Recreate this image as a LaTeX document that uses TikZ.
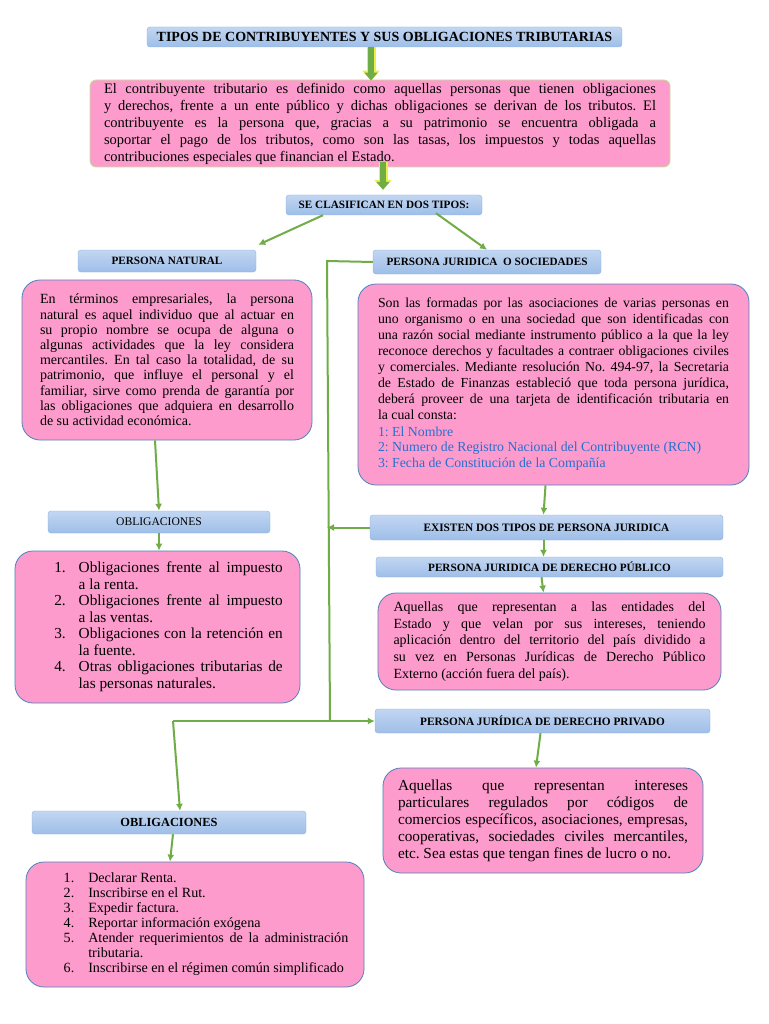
\documentclass[tikz,border=0pt]{standalone}
\usepackage{fontspec}
\setmainfont{Liberation Serif}
\usepackage{array}
\usetikzlibrary{arrows.meta}

\definecolor{cardpink}{RGB}{253,155,205}
\definecolor{cardline}{RGB}{79,129,189}
\definecolor{topline}{RGB}{196,226,150}
\definecolor{hdrtop}{RGB}{194,214,242}
\definecolor{hdrbot}{RGB}{158,190,232}
\definecolor{hdrline}{RGB}{141,179,226}
\definecolor{linkgreen}{RGB}{112,173,71}
\definecolor{glowyellow}{RGB}{236,240,70}
\definecolor{listblue}{RGB}{40,112,205}

\tikzset{
  header/.style={draw=hdrline, rounded corners=3pt, top color=hdrtop, bottom color=hdrbot, inner sep=0pt, font=\bfseries},
  card/.style={draw=cardline, line width=0.8pt, fill=cardpink, rounded corners=18pt, inner sep=0pt, align=justify},
  link/.style={draw=linkgreen, line width=2pt, -{Latex[length=7pt,width=7pt]}},
  plain/.style={draw=linkgreen, line width=2pt},
  bigarrow/.style={draw=linkgreen, line width=6pt, -{Triangle[length=8pt,width=13pt]},
    preaction={draw=glowyellow, line width=9pt, -{Triangle[length=10pt,width=17pt]}}}
}

\begin{document}
\frenchspacing
\begin{tikzpicture}[x=1pt, y=-1pt]
  \useasboundingbox (0,0) rectangle (768,1024);
  \fill[white] (0,0) rectangle (768,1024);

  % headers
  \node[header, minimum width=475, minimum height=20, font=\bfseries\fontsize{14}{15}\selectfont] (title) at (384.5, 37) {TIPOS DE CONTRIBUYENTES Y SUS OBLIGACIONES TRIBUTARIAS};
  \node[header, minimum width=196, minimum height=20, font=\bfseries\fontsize{11.2}{12}\selectfont] (clas) at (384, 205) {SE CLASIFICAN EN DOS TIPOS:};
  \node[header, minimum width=178, minimum height=22, font=\bfseries\fontsize{11.2}{12}\selectfont] (pn) at (167, 261) {PERSONA NATURAL};
  \node[header, minimum width=228, minimum height=24, font=\bfseries\fontsize{11.2}{12}\selectfont] (pjs) at (487, 262) {PERSONA JURIDICA\ \ O SOCIEDADES};
  \node[header, minimum width=222, minimum height=22, font=\fontsize{11.6}{12}\selectfont] (obl1) at (159, 522) {OBLIGACIONES};
  \node[header, minimum width=353, minimum height=25, font=\bfseries\fontsize{11.3}{12}\selectfont] (exist) at (546.5, 527.5) {EXISTEN DOS TIPOS DE PERSONA JURIDICA};
  \node[header, minimum width=347, minimum height=20, font=\bfseries\fontsize{11.2}{12}\selectfont] (pub) at (549.5, 567) {PERSONA JURIDICA DE DERECHO PÚBLICO};
  \node[header, minimum width=335, minimum height=24, font=\bfseries\fontsize{11.3}{12}\selectfont] (priv) at (542.5, 721) {PERSONA JURÍDICA DE DERECHO PRIVADO};
  \node[header, minimum width=274, minimum height=23, font=\bfseries\fontsize{12.4}{13}\selectfont] (obl2) at (169, 822.5) {OBLIGACIONES};

  % text boxes
  \node[card, draw=topline, rounded corners=6pt, minimum width=580, minimum height=87, text width=552, font=\fontsize{14.5}{17}\selectfont] (intro) at (380, 123.5)
    {El contribuyente tributario es definido como aquellas personas que tienen obligaciones\linebreak
     y derechos, frente a un ente público y dichas obligaciones se derivan de los tributos. El\linebreak
     contribuyente es la persona que, gracias a su patrimonio se encuentra obligada a\linebreak
     soportar el pago de los tributos, como son las tasas, los impuestos y todas aquellas\linebreak
     contribuciones especiales que financian el Estado.};
  \node[card, minimum width=290, minimum height=160, text width=254, font=\fontsize{14}{15.2}\selectfont] (pntext) at (167, 360)
    {En términos empresariales, la persona\linebreak
     natural es aquel individuo que al actuar en\linebreak
     su propio nombre se ocupa de alguna o\linebreak
     algunas actividades que la ley considera\linebreak
     mercantiles. En tal caso la totalidad, de su\linebreak
     patrimonio, que influye el personal y el\linebreak
     familiar, sirve como prenda de garantía por\linebreak
     las obligaciones que adquiera en desarrollo\linebreak
     de su actividad económica.};
  \node[card, minimum width=391, minimum height=201, text width=351, font=\fontsize{13.8}{15.9}\selectfont] (pjstext) at (553.5, 384.5)
    {Son las formadas por las asociaciones de varias personas en\linebreak
     uno organismo o en una sociedad que son identificadas con\linebreak
     una razón social mediante instrumento público a la que la ley\linebreak
     reconoce derechos y facultades a contraer obligaciones civiles\linebreak
     y comerciales. Mediante resolución No. 494-97, la Secretaria\linebreak
     de Estado de Finanzas estableció que toda persona jurídica,\linebreak
     deberá proveer de una tarjeta de identificación tributaria en\linebreak
     la cual consta:\par\vspace{1pt}
     {\color{listblue}1: El Nombre\par
     2: Numero de Registro Nacional del Contribuyente (RCN)\par
     3: Fecha de Constitución de la Compañía\par}};
  \node[card, minimum width=285, minimum height=152, align=left, font=\fontsize{15.3}{16.5}\selectfont] (obl1list) at (157.5, 627)
    {\begin{tabular}{@{\hspace{22pt}}r@{\hspace{13pt}}p{204pt}@{}}
     1. & Obligaciones frente al impuesto\linebreak a la renta.\\
     2. & Obligaciones frente al impuesto\linebreak a las ventas.\\
     3. & Obligaciones con la retención en\linebreak la fuente.\\
     4. & Otras obligaciones tributarias de\linebreak las personas naturales.
     \end{tabular}};
  \node[card, minimum width=343, minimum height=97, text width=312, font=\fontsize{14}{16.7}\selectfont] (pubtext) at (549.5, 641.5)
    {Aquellas que representan a las entidades del\linebreak
     Estado y que velan por sus intereses, teniendo\linebreak
     aplicación dentro del territorio del país dividido a\linebreak
     su vez en Personas Jurídicas de Derecho Público\linebreak
     Externo (acción fuera del país).};
  \node[card, minimum width=320, minimum height=105, text width=290, font=\fontsize{15.3}{17}\selectfont] (privtext) at (543, 820.5)
    {Aquellas que representan intereses\linebreak
     particulares regulados por códigos de\linebreak
     comercios específicos, asociaciones, empresas,\linebreak
     cooperativas, sociedades civiles mercantiles,\linebreak
     etc. Sea estas que tengan fines de lucro o no.};
  \node[card, minimum width=338, minimum height=125, align=left, font=\fontsize{14.1}{15.1}\selectfont] (obl2list) at (195, 924.5)
    {\begin{tabular}{@{\hspace{22pt}}r@{\hspace{14pt}}p{260pt}@{}}
     1. & Declarar Renta.\\
     2. & Inscribirse en el Rut.\\
     3. & Expedir factura.\\
     4. & Reportar información exógena\\
     5. & Atender requerimientos de la administración\linebreak tributaria.\\
     6. & Inscribirse en el régimen común simplificado
     \end{tabular}};

  % block arrows
  \draw[bigarrow] ([xshift=-13.5]title.south) -- ([xshift=-9, yshift=-1]intro.north);
  \draw[bigarrow] ([xshift=3, yshift=5]intro.south) -- ([xshift=-1, yshift=5]clas.north);

  % links
  \draw[link] ([xshift=-61]clas.south) -- ([xshift=2, yshift=5]pn.north east);
  \draw[link] ([xshift=52, yshift=2]clas.south) -- (pjs.north);
  \foreach \src/\dst/\sx/\dx in {pntext.south/obl1.north/-12/0, obl1.south/obl1list.north/0/1.5,
      pjstext.south/exist.north/-8/-3, exist.south/pub.north/-3/-6, pub.south/pubtext.north/-8/-6,
      priv.south/privtext.north/-2/-7, obl2.south/obl2list.north/4/-25}
    \draw[link] ([xshift=\sx]\src) -- ([xshift=\dx]\dst);

  % connector from PERSONA JURIDICA down the middle
  \coordinate (jtop) at (327, 261);
  \coordinate (jbot) at (330, 721);
  \coordinate (jleft) at (173, 721);
  \draw[plain] (pjs.west) -- (jtop) -- (jbot);
  \draw[link] (exist.west) -- (exist.west -| jtop);
  \draw[link] (jleft) -- (priv.west);
  \draw[link] (jleft) -- ([xshift=11]obl2.north);
\end{tikzpicture}
\end{document}
